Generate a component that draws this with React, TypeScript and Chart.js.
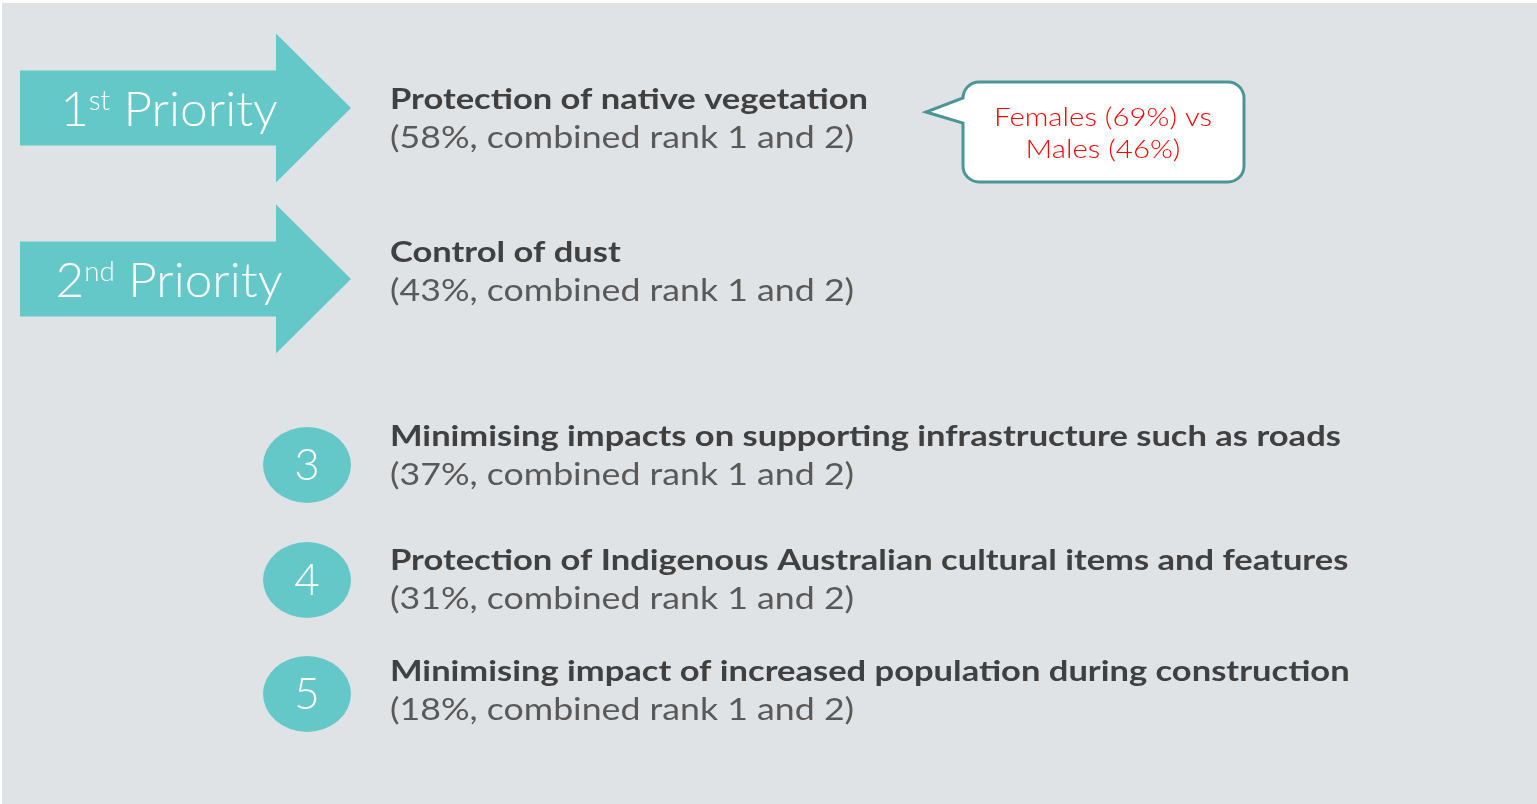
import React, { useEffect, useRef } from "react";
import { Chart, registerables } from "chart.js";

Chart.register(...registerables);

// ---- data ----
const ranks = [1, 2, 3, 4, 5];
const ordinalSuffix = ["st", "nd"];
const items = [
  "Protection of native vegetation",
  "Control of dust",
  "Minimising impacts on supporting infrastructure such as roads",
  "Protection of Indigenous Australian cultural items and features",
  "Minimising impact of increased population during construction",
];
const percents = [58, 43, 37, 31, 18];
const calloutGroups = ["Females", "Males"];
const calloutValues = [69, 46];

// ---- layout (pixels on the 1537x804 canvas scale) ----
const W = 1537;
const H = 804;
const ROW_Y = [108, 279, 465, 580, 694];
const TITLE_Y = [100, 253, 437, 561, 672];
const SUB_DY = 38;
const ARROW_TIP_X = 351;
const CIRCLE_X = 307;
const TEXT_X = 390;

const TEAL = "#65c8c8";
const BG = "#e0e3e6";
const FONT = "Lato, 'Open Sans', sans-serif";

function drawScaledText(ctx: CanvasRenderingContext2D, text: string, x: number, y: number, sx: number) {
  ctx.save();
  ctx.translate(x, y);
  ctx.scale(sx, 1);
  ctx.fillText(text, 0, 0);
  ctx.restore();
}

const infographic = {
  id: "infographic",
  beforeDraw(chart: any) {
    const ctx = chart.ctx;
    ctx.save();
    ctx.fillStyle = "#ffffff";
    ctx.fillRect(0, 0, W, H);
    ctx.fillStyle = BG;
    ctx.fillRect(2, 3, W - 2, H - 3);
    ctx.restore();
  },
  afterDatasetsDraw(chart: any) {
    const ctx: CanvasRenderingContext2D = chart.ctx;
    const meta = chart.getDatasetMeta(0);
    const xs = chart.scales.x;
    const ys = chart.scales.y;
    const SX_ARROW = 1.03;
    const SX_TITLE = 1.19;
    const SX_SUB = 1.19;
    const SX_CALL = 1.13;
    ctx.save();
    meta.data.forEach((pt: any, i: number) => {
      const cx = pt.x;
      const cy = pt.y;
      if (i < 2) {
        // arrow
        const tip = cx;
        const headBase = tip - 75;
        const left = tip - 331;
        ctx.fillStyle = TEAL;
        ctx.beginPath();
        ctx.moveTo(left, cy - 37.5);
        ctx.lineTo(headBase, cy - 37.5);
        ctx.lineTo(headBase, cy - 74.5);
        ctx.lineTo(tip, cy);
        ctx.lineTo(headBase, cy + 74.5);
        ctx.lineTo(headBase, cy + 37.5);
        ctx.lineTo(left, cy + 37.5);
        ctx.closePath();
        ctx.fill();
        // label with superscript
        const big = `300 48px ${FONT}`;
        const small = `300 27px ${FONT}`;
        const num = String(ranks[i]);
        const rest = " Priority";
        ctx.font = big;
        const wNum = ctx.measureText(num).width * SX_ARROW;
        const wRest = ctx.measureText(rest).width * SX_ARROW;
        ctx.font = small;
        const wSup = ctx.measureText(ordinalSuffix[i]).width * SX_ARROW;
        const total = wNum + wSup + wRest;
        let x = left + 149 - total / 2;
        const base = cy + 18;
        ctx.fillStyle = "#ffffff";
        ctx.textBaseline = "alphabetic";
        ctx.textAlign = "left";
        ctx.font = big;
        drawScaledText(ctx, num, x, base, SX_ARROW);
        x += wNum;
        ctx.font = small;
        drawScaledText(ctx, ordinalSuffix[i], x, base - 16, SX_ARROW);
        x += wSup;
        ctx.font = big;
        drawScaledText(ctx, rest, x, base, SX_ARROW);
      } else {
        ctx.fillStyle = TEAL;
        ctx.beginPath();
        ctx.ellipse(cx, cy, 44, 38, 0, 0, Math.PI * 2);
        ctx.fill();
        ctx.fillStyle = "#ffffff";
        ctx.font = `300 44px ${FONT}`;
        ctx.textAlign = "center";
        ctx.textBaseline = "middle";
        ctx.fillText(String(ranks[i]), cx, cy + 1);
      }
      // texts
      const tx = xs.getPixelForValue(TEXT_X);
      const ty = ys.getPixelForValue(TITLE_Y[i]);
      ctx.textAlign = "left";
      ctx.textBaseline = "middle";
      ctx.fillStyle = "#404040";
      ctx.font = `bold 29px ${FONT}`;
      drawScaledText(ctx, items[i], tx, ty, SX_TITLE);
      ctx.fillStyle = "#595959";
      ctx.font = `400 30px ${FONT}`;
      drawScaledText(ctx, `(${percents[i]}%, combined rank 1 and 2)`, tx, ty + SUB_DY, SX_SUB);
    });

    // callout bubble
    const bx = 963, by = 82, bw = 281, bh = 100, r = 16;
    ctx.beginPath();
    ctx.moveTo(bx + r, by);
    ctx.lineTo(bx + bw - r, by);
    ctx.arcTo(bx + bw, by, bx + bw, by + r, r);
    ctx.lineTo(bx + bw, by + bh - r);
    ctx.arcTo(bx + bw, by + bh, bx + bw - r, by + bh, r);
    ctx.lineTo(bx + r, by + bh);
    ctx.arcTo(bx, by + bh, bx, by + bh - r, r);
    ctx.lineTo(bx, 123);
    ctx.lineTo(926, 112);
    ctx.lineTo(bx, 98);
    ctx.lineTo(bx, by + r);
    ctx.arcTo(bx, by, bx + r, by, r);
    ctx.closePath();
    ctx.fillStyle = "#ffffff";
    ctx.fill();
    ctx.lineWidth = 3;
    ctx.strokeStyle = "#4a9696";
    ctx.stroke();
    ctx.fillStyle = "#ff0000";
    ctx.font = `300 26px ${FONT}`;
    ctx.textAlign = "left";
    ctx.textBaseline = "middle";
    const l1 = `${calloutGroups[0]} (${calloutValues[0]}%) vs`;
    const l2 = `${calloutGroups[1]} (${calloutValues[1]}%)`;
    const w1 = ctx.measureText(l1).width * SX_CALL;
    const w2 = ctx.measureText(l2).width * SX_CALL;
    drawScaledText(ctx, l1, 1103 - w1 / 2, 118, SX_CALL);
    drawScaledText(ctx, l2, 1103 - w2 / 2, 150, SX_CALL);
    ctx.restore();
  },
};

export default function App() {
  const ref = useRef<HTMLCanvasElement>(null);
  useEffect(() => {
    if (!ref.current) return;
    const chart = new Chart(ref.current, {
      type: "scatter",
      data: {
        datasets: [
          {
            label: "Priority rank",
            data: ranks.map((r, i) => ({ x: i < 2 ? ARROW_TIP_X : CIRCLE_X, y: ROW_Y[i] })),
            pointRadius: 0,
            pointHoverRadius: 0,
          },
        ],
      },
      options: {
        animation: false,
        responsive: false,
        devicePixelRatio: 1,
        layout: { padding: 0 },
        plugins: { legend: { display: false }, tooltip: { enabled: false } },
        events: [],
        scales: {
          x: { type: "linear", min: 0, max: W, display: false },
          y: { type: "linear", min: 0, max: H, reverse: true, display: false },
        },
      },
      plugins: [infographic],
    });
    return () => chart.destroy();
  }, []);
  return (
    <div style={{ position: "absolute", left: 0, top: 0, width: W, height: H }}>
      <canvas ref={ref} width={W} height={H} style={{ display: "block", width: W, height: H }} />
    </div>
  );
}
